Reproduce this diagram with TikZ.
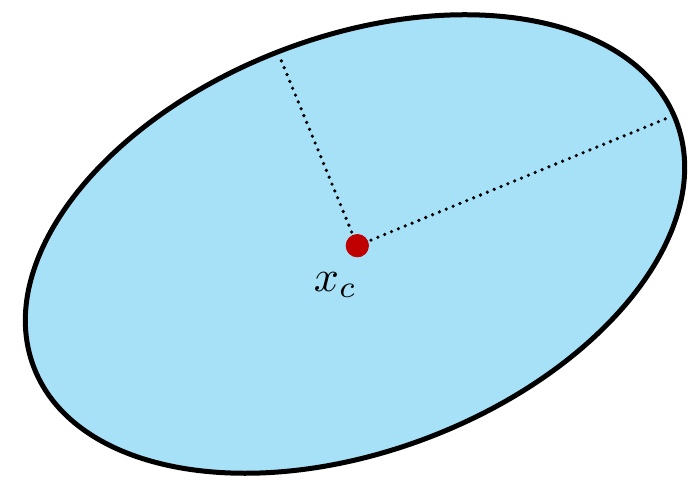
\documentclass[tikz,border=0pt]{standalone}
\usepackage{tikz}
\definecolor{ellfill}{RGB}{166,225,248}
\definecolor{dotred}{RGB}{192,0,0}
\tikzset{
  dottedline/.style={line width=3.6pt, line cap=round, dash pattern=on 0pt off 7.4pt, black},
  outline/.style={line width=5pt, draw=black, fill=ellfill}
}
\begin{document}
\begin{tikzpicture}[x=1pt,y=1pt]
\useasboundingbox (0,0) rectangle (698,479);
\draw[outline, rotate around={21:(355,235)}] (355,235) ellipse [x radius=344, y radius=207];
\node[circle, fill=dotred, inner sep=0pt, minimum size=23pt] (c) at (357.3,233.3) {};
\coordinate (r) at (670.7,362.3);
\coordinate (t) at (279,424);
\draw[dottedline] (c.center) -- (r);
\draw[dottedline] (c.center) -- (t);
\fill[dotred] (c.center) circle (11.5pt);
\node[scale=4.4] (lab) at (335.5,194) {$x_c$};
\end{tikzpicture}
\end{document}
